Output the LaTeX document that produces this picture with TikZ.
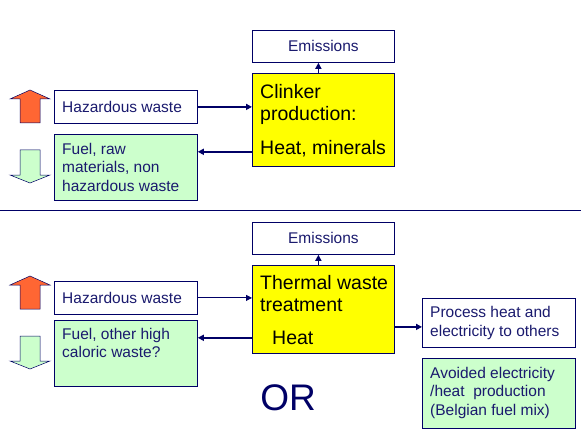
\documentclass[tikz,border=0pt]{standalone}
\usepackage{fontspec}
\setmainfont{Liberation Sans}
\usetikzlibrary{positioning,arrows.meta}
\definecolor{FlowNavy}{HTML}{000066}
\definecolor{FlowText}{HTML}{1A1A6E}
\definecolor{KilnYellow}{HTML}{FFFF00}
\definecolor{SoftGreen}{HTML}{CCFFCC}
\definecolor{HotOrange}{HTML}{FF6633}

\begin{document}
\begin{tikzpicture}[
  x=1pt,y=-1pt,
  font=\fontsize{15.5}{18.5}\selectfont,
  text=FlowText,
  box/.style={draw=FlowNavy,line width=0.8pt,anchor=north west,inner sep=0pt,fill=white},
  boxtext/.style={anchor=north west,align=left,inner sep=0pt},
  bigtext/.style={boxtext,text=black,font=\fontsize{19.5}{22}\selectfont},
  flow/.style={draw=FlowNavy,line width=1.6pt,-{Triangle[length=6pt,width=6pt]}},
  thinflow/.style={flow,line width=0.9pt},
  blockarrow/.style={draw=FlowNavy,line width=0.5pt},
]
  \useasboundingbox (0,0) rectangle (581,433);

  % clinker kiln
  \node[box,minimum width=142pt,minimum height=32pt] (emis1) at (252,30) {Emissions};
  \node[box,fill=KilnYellow,minimum width=142pt,minimum height=93pt] (kiln) at (252,73) {};
  \node[bigtext] (kilntext) at ([shift={(8pt,-11pt)}]kiln.north west)
    {Clinker\\production:\\[12pt]Heat, minerals};
  \node[box,minimum width=143pt,minimum height=33pt] (haz1) at (54,90) {};
  \node[boxtext,anchor=west] (haztext1) at ([xshift=8pt]haz1.west) {Hazardous waste};
  \node[box,fill=SoftGreen,minimum width=143pt,minimum height=66pt] (fuel1) at (54,134) {};
  \node[boxtext] (fueltext1) at ([shift={(8pt,-9pt)}]fuel1.north west)
    {Fuel, raw\\materials, non\\hazardous waste};

  \draw[flow] ([xshift=-5pt]kiln.north) -- ([xshift=-5pt]emis1.south);
  \draw[flow] (haz1.east) -- (haz1.east -| kiln.west);
  \draw[flow] ([yshift=15pt]kiln.south west) -- ([yshift=15pt]kiln.south west -| fuel1.east);

  \draw[FlowNavy,line width=0.8pt] (0,210) -- (581,210);

  % thermal treatment
  \node[box,minimum width=142pt,minimum height=32pt] (emis2) at (252,222) {Emissions};
  \node[box,fill=KilnYellow,minimum width=142pt,minimum height=88pt] (thermal) at (252,265) {};
  \node[bigtext] (thermaltext) at ([shift={(8pt,-10pt)}]thermal.north west)
    {Thermal waste\\treatment\\[11pt]\hspace*{12pt}Heat};
  \node[box,minimum width=143pt,minimum height=33pt] (haz2) at (54,281) {};
  \node[boxtext,anchor=west] (haztext2) at ([xshift=8pt]haz2.west) {Hazardous waste};
  \node[box,fill=SoftGreen,minimum width=143pt,minimum height=66pt] (fuel2) at (54,320) {};
  \node[boxtext] (fueltext2) at ([shift={(8pt,-8pt)}]fuel2.north west)
    {Fuel, other high\\caloric waste?};
  \node[box,minimum width=153pt,minimum height=49pt] (proc) at (422,298) {};
  \node[boxtext,anchor=west] (proctext) at ([xshift=8pt]proc.west)
    {Process heat and\\electricity to others};
  \node[box,fill=SoftGreen,minimum width=153pt,minimum height=70pt] (avoid) at (422,358) {};
  \node[boxtext] (avoidtext) at ([shift={(8pt,-9pt)}]avoid.north west)
    {Avoided electricity\\/heat\ \ production\\(Belgian fuel mix)};
  \node[text=FlowNavy,font=\fontsize{37}{40}\selectfont] (orword) at (288,398) {OR};

  \draw[flow] ([xshift=-5pt]thermal.north) -- ([xshift=-5pt]emis2.south);
  \draw[thinflow] (haz2.east) -- (haz2.east -| thermal.west);
  \draw[flow] ([yshift=16pt]thermal.south west) -- ([yshift=16pt]thermal.south west -| fuel2.east);
  \draw[flow] ([yshift=-4pt]proc.west -| thermal.east) -- ([yshift=-4pt]proc.west);

  % up and down block arrows
  \foreach \dy in {0,186} {
    \draw[blockarrow,fill=HotOrange] (30,90+\dy) -- (50,99+\dy) -- (40,99+\dy) -- (40,123+\dy)
      -- (20,123+\dy) -- (20,99+\dy) -- (10,99+\dy) -- cycle;
    \draw[blockarrow,fill=SoftGreen] (20,150+\dy) -- (40,150+\dy) -- (40,175+\dy) -- (50,175+\dy)
      -- (30,183+\dy) -- (10,175+\dy) -- (20,175+\dy) -- cycle;
  }
\end{tikzpicture}
\end{document}
